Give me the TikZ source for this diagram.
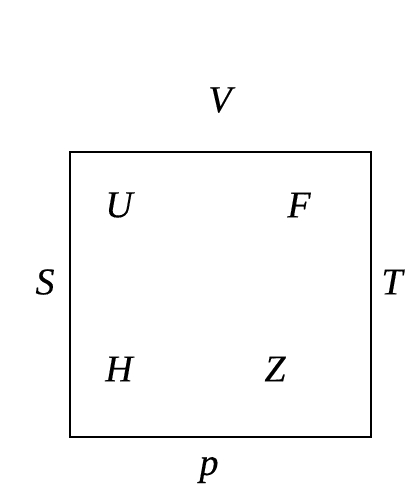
\documentclass[tikz,border=0pt]{standalone}
\usepackage{fontspec}
\setmainfont{Liberation Serif}
\newfontfamily\lblfont[FakeBold=0.2]{Liberation Serif}
\begin{document}
\begin{tikzpicture}[x=1pt,y=-1pt,
  lbl/.style={font=\lblfont\fontsize{38}{42}\selectfont\itshape, inner sep=0pt},
  frame/.style={draw=black, line width=2.3pt}]
\useasboundingbox (0,0) rectangle (405,504);
\node[frame, minimum width=301pt, minimum height=285pt, inner sep=0pt] (box) at (220.5,294.5) {};
\node[lbl] (V) at (220,100) {V};
\node[lbl] (U) at (119,205) {U};
\node[lbl] (F) at (299,205) {F};
\node[lbl] (S) at (45,282) {S};
\node[lbl] (T) at (392,282) {T};
\node[lbl] (H) at (119,369) {H};
\node[lbl] (Z) at (275,369) {Z};
\node[lbl] (p) at (209,470) {p};
\end{tikzpicture}
\end{document}
